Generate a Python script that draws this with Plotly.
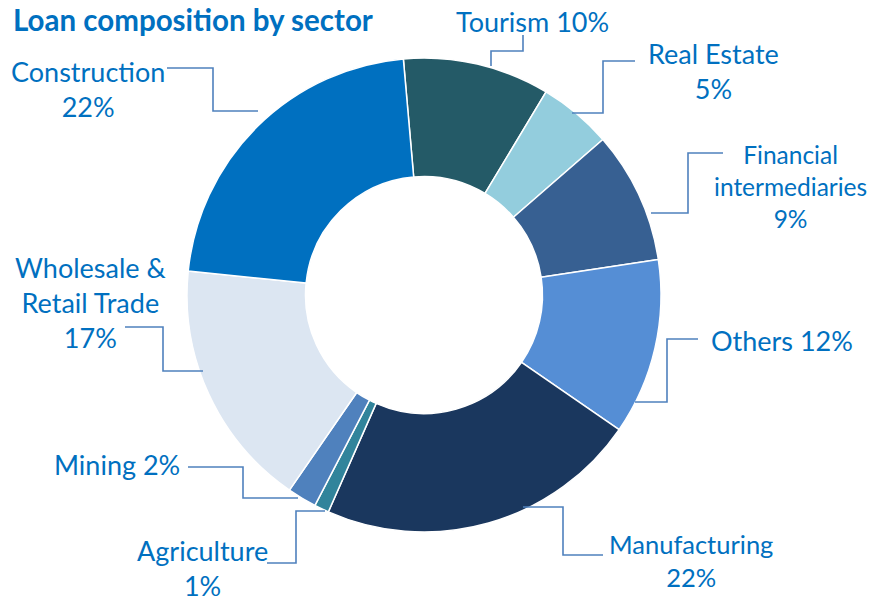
import plotly.graph_objects as go

# Loan composition by sector (share of total, %), clockwise from the top
sectors = ["Tourism", "Real Estate", "Financial intermediaries", "Others",
           "Manufacturing", "Agriculture", "Mining",
           "Wholesale & Retail Trade", "Construction"]
shares = [10, 5, 9, 12, 22, 1, 2, 17, 22]
colors = ["#245A67", "#93CDDD", "#376092", "#558ED5", "#1A375E",
          "#31849B", "#4F81BD", "#DCE6F2", "#0070C0"]

# Label text layout (line breaks) for each sector
label_lines = {
    "Tourism": ["Tourism {v}%"],
    "Real Estate": ["Real Estate", "{v}%"],
    "Financial intermediaries": ["Financial", "intermediaries", "{v}%"],
    "Others": ["Others {v}%"],
    "Manufacturing": ["Manufacturing", "{v}%"],
    "Agriculture": ["Agriculture", "{v}%"],
    "Mining": ["Mining {v}%"],
    "Wholesale & Retail Trade": ["Wholesale &", "Retail Trade", "{v}%"],
    "Construction": ["Construction", "{v}%"],
}

W, H = 873, 601
CX, CY, R = 424, 295, 237  # donut centre and outer radius, px

# Label centres, font sizes and elbow leader paths, in px
label_pos = {
    "Tourism": (532, 22),
    "Real Estate": (713, 71),
    "Financial intermediaries": (790, 187),
    "Others": (782, 340),
    "Manufacturing": (691, 560),
    "Agriculture": (202, 568),
    "Mining": (117, 464),
    "Wholesale & Retail Trade": (90, 302),
    "Construction": (88, 89),
}
label_size = {"Financial intermediaries": 24.5, "Manufacturing": 25.5}
leaders = {
    "Tourism": [(523, 35), (523, 51), (491, 51), (491, 66)],
    "Real Estate": [(635, 61), (603, 61), (603, 113), (572, 113)],
    "Financial intermediaries": [(723, 153), (688, 153), (688, 213), (651, 213)],
    "Others": [(698, 339), (667, 339), (667, 402), (635, 402)],
    "Manufacturing": [(523, 507), (563, 507), (563, 555), (603, 555)],
    "Agriculture": [(325, 511), (296, 511), (296, 563), (267, 563)],
    "Mining": [(188, 467), (243, 467), (243, 498), (298, 498)],
    "Wholesale & Retail Trade": [(125, 327), (163, 327), (163, 371), (203, 371)],
    "Construction": [(167, 68), (213, 68), (213, 111), (258, 111)],
}

TEXT_COLOR = "#0070C0"
LEADER_COLOR = "#4F81BD"
FONT = "Lato, Open Sans, sans-serif"


def px(x):
    return x / W


def py(y):
    return 1 - y / H


fig = go.Figure(go.Pie(
    labels=sectors,
    values=shares,
    sort=False,
    direction="clockwise",
    rotation=-5,
    hole=0.5,
    marker=dict(colors=colors, line=dict(color="white", width=1.5)),
    textinfo="none",
    hoverinfo="label+percent",
    domain=dict(x=[px(CX - R), px(CX + R)], y=[py(CY + R), py(CY - R)]),
    showlegend=False,
))

annotations = [dict(
    text="<b>Loan composition by sector</b>",
    x=px(11), y=py(0), xref="paper", yref="paper",
    xanchor="left", yanchor="top", showarrow=False,
    font=dict(family=FONT, size=29.5, color=TEXT_COLOR),
)]
shapes = []
for name, val in zip(sectors, shares):
    lines = [s.format(v=val) for s in label_lines[name]]
    lx, ly = label_pos[name]
    annotations.append(dict(
        text="<br>".join(lines), x=px(lx), y=py(ly),
        xref="paper", yref="paper", xanchor="center", yanchor="middle",
        align="center", showarrow=False,
        font=dict(family=FONT, size=label_size.get(name, 27), color=TEXT_COLOR),
    ))
    pts = leaders[name]
    path = "M " + " L ".join(f"{px(x)},{py(y)}" for x, y in pts)
    shapes.append(dict(type="path", path=path, xref="paper", yref="paper",
                       line=dict(color=LEADER_COLOR, width=1.6)))

fig.update_layout(
    width=W, height=H,
    margin=dict(l=0, r=0, t=0, b=0),
    paper_bgcolor="white", plot_bgcolor="white",
    annotations=annotations, shapes=shapes,
)

fig.write_html("out.html")
